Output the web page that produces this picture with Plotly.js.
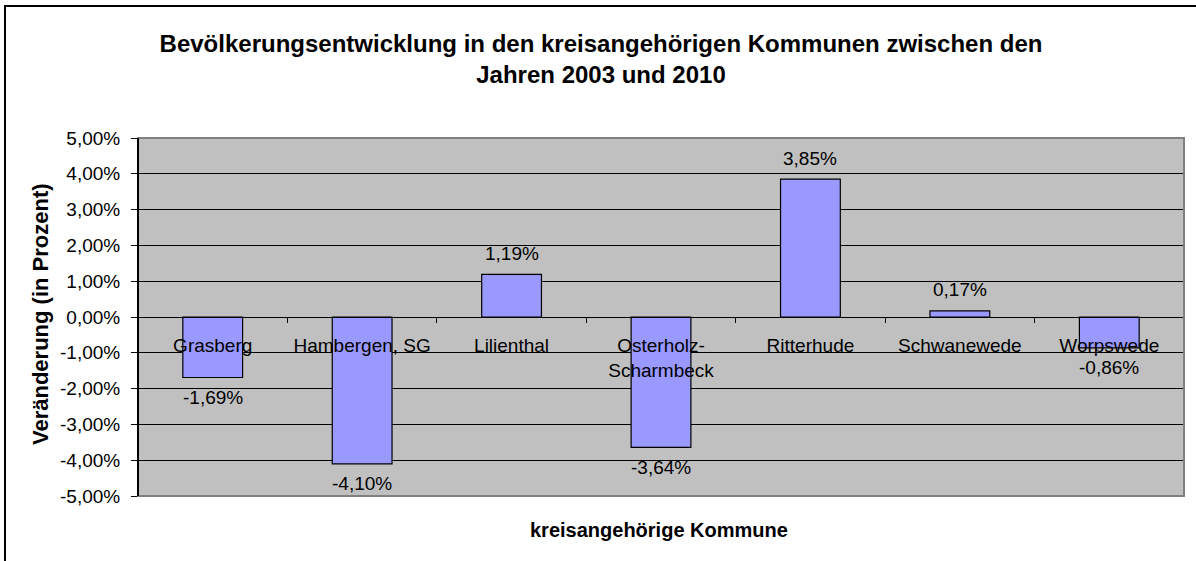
<!DOCTYPE html>
<html>
<head>
<meta charset="utf-8">
<script src="https://cdn.plot.ly/plotly-3.0.1.min.js"></script>
<style>
  html, body { margin: 0; padding: 0; background: #fff; }
  #chart { width: 1196px; height: 561px; }
</style>
</head>
<body>
<div id="chart"></div>
<script>
// Gemeinden im Landkreis Osterholz
const kommunen = ['Grasberg', 'Hambergen, SG', 'Lilienthal', 'Osterholz-<br>Scharmbeck', 'Ritterhude', 'Schwanewede', 'Worpswede'];
// Veränderung 2003 -> 2010 in Prozent
const veraenderung = [-1.69, -4.10, 1.19, -3.64, 3.85, 0.17, -0.86];
const wertLabels = ['-1,69%', '-4,10%', '1,19%', '-3,64%', '3,85%', '0,17%', '-0,86%'];

const yTickVals = [-5, -4, -3, -2, -1, 0, 1, 2, 3, 4, 5];
const yTickText = ['-5,00%', '-4,00%', '-3,00%', '-2,00%', '-1,00%', '0,00%', '1,00%', '2,00%', '3,00%', '4,00%', '5,00%'];

const fontFam = 'Liberation Sans, Arial, sans-serif';

const trace = {
    type: 'bar',
    x: kommunen,
    y: veraenderung,
    width: 0.4,
    marker: { color: '#9999FF', line: { color: '#000', width: 1.2 } },
    hoverinfo: 'none'
};

// data labels above / below the bars
const labels = kommunen.map((k, i) => ({
    x: k,
    y: veraenderung[i],
    xref: 'x', yref: 'y',
    text: wertLabels[i],
    showarrow: false,
    yanchor: 'middle',
    yshift: veraenderung[i] >= 0 ? 21 : -20,
    font: { family: fontFam, size: 19, color: '#000' }
}));

const layout = {
    width: 1196,
    height: 561,
    margin: { l: 138, r: 12, t: 138, b: 65 },
    paper_bgcolor: '#fff',
    plot_bgcolor: '#C0C0C0',
    showlegend: false,
    font: { family: fontFam, color: '#000' },
    title: {
        text: '<b>Bevölkerungsentwicklung in den kreisangehörigen Kommunen zwischen den<br>Jahren 2003 und 2010</b>',
        font: { family: fontFam, size: 24, color: '#000' },
        x: 601 / 1196, xref: 'container', xanchor: 'center',
        y: 1 - 52 / 561, yref: 'container', yanchor: 'middle'
    },
    xaxis: {
        type: 'category',
        anchor: 'free',
        position: 0.5,   // zero line of the y range
        showline: true, linecolor: '#000', linewidth: 1,
        ticks: 'outside', ticklen: 5, tickcolor: '#000',
        tickson: 'boundaries',
        ticklabelstandoff: 11,
        tickfont: { family: fontFam, size: 19, color: '#000' },
        showgrid: false,
        fixedrange: true
    },
    yaxis: {
        range: [-5, 5],
        tickmode: 'array',
        tickvals: yTickVals,
        ticktext: yTickText,
        ticks: 'outside', ticklen: 6, tickcolor: '#000',
        ticklabelstandoff: 7,
        tickfont: { family: fontFam, size: 19, color: '#000' },
        showgrid: true, gridcolor: '#000', gridwidth: 1,
        zeroline: true, zerolinecolor: '#000', zerolinewidth: 1,
        showline: false,
        fixedrange: true
    },
    annotations: labels.concat([
        {
            text: '<b>Veränderung (in Prozent)</b>',
            xref: 'paper', yref: 'paper',
            x: (40 - 138) / 1046, y: (496 - 314) / 358,
            xanchor: 'center', yanchor: 'middle',
            textangle: -90, showarrow: false,
            font: { family: fontFam, size: 22, color: '#000' }
        },
        {
            text: '<b>kreisangehörige Kommune</b>',
            xref: 'paper', yref: 'paper',
            x: (659 - 138) / 1046, y: -(530 - 496) / 358,
            xanchor: 'center', yanchor: 'middle',
            showarrow: false,
            font: { family: fontFam, size: 20, color: '#000' }
        }
    ]),
    shapes: [
        // plot area frame (grey), left edge black like the value axis
        { type: 'rect', xref: 'paper', yref: 'paper', x0: 0, x1: 1, y0: 0, y1: 1,
          line: { color: '#808080', width: 2 }, layer: 'above' },
        { type: 'line', xref: 'paper', yref: 'paper', x0: 0, x1: 0, y0: 0, y1: 1,
          line: { color: '#000', width: 2 }, layer: 'above' },
        // outer chart border
        { type: 'rect', xref: 'paper', yref: 'paper',
          x0: (5 - 138) / 1046, x1: (1230 - 138) / 1046,
          y0: (496 - 600) / 358, y1: (496 - 6) / 358,
          line: { color: '#000', width: 2 }, layer: 'above' }
    ]
};

Plotly.newPlot('chart', [trace], layout, { displayModeBar: false, staticPlot: true });
</script>
</body>
</html>
